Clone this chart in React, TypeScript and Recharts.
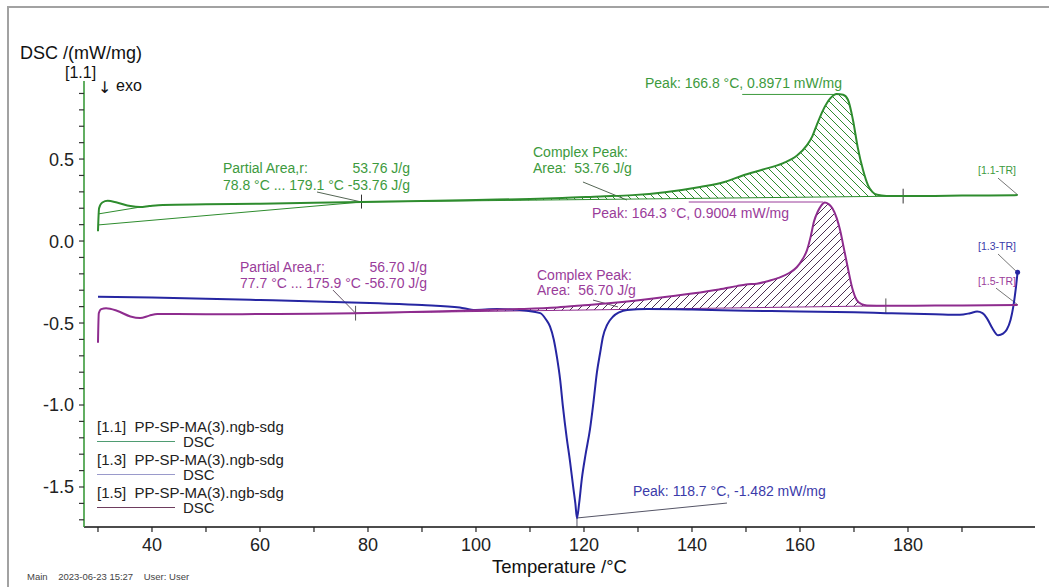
import React from 'react';
import { ComposedChart, Line, Area, XAxis, YAxis, ReferenceLine, ReferenceDot } from 'recharts';

const FONT = '"Liberation Sans", Arial, Helvetica, sans-serif';
const W = 1049;
const H = 587;
const MARGIN = { top: 81, right: 14, bottom: 0, left: 0 };
const Y_AXIS_W = 84;
const X_AXIS_H = 60;

const GREEN = '#2e8c2e';
const GREEN_T = '#3d9a3d';
const BLUE = '#2626a2';
const BLUE_T = '#3b3baa';
const PURPLE = '#8e2c8e';
const PURPLE_T = '#9a3c9a';

// ---- Curve [1.1] (green): temperature /°C and DSC /(mW/mg)
const t11 = [30.0, 30.2, 30.8, 31.8, 33.5, 36.0, 37.8, 39.5, 42, 50, 60, 70, 78.8, 90, 100, 110, 116, 123, 129, 135, 141.5, 146, 149.4, 153, 156.9, 159.4, 161.3, 162.3, 163.1, 164.3, 165.6, 166.8, 168.0, 168.9, 169.8, 170.7, 171.7, 172.6, 173.4, 174.3, 176, 179.1, 185, 190, 195, 200.3];
const dsc11 = [0.06, 0.2, 0.235, 0.245, 0.235, 0.213, 0.207, 0.213, 0.22, 0.224, 0.228, 0.233, 0.238, 0.244, 0.25, 0.257, 0.262, 0.272, 0.28, 0.298, 0.33, 0.36, 0.4, 0.435, 0.475, 0.52, 0.585, 0.64, 0.707, 0.8, 0.87, 0.897, 0.892, 0.86, 0.74, 0.57, 0.43, 0.34, 0.3, 0.282, 0.275, 0.274, 0.275, 0.277, 0.278, 0.28];

// ---- Curve [1.3] (blue)
const t13 = [30.0, 40, 50, 60, 72, 82, 90, 97, 99.5, 104, 109.4, 111.9, 113.0, 113.7, 114.4, 115.0, 115.6, 116.1, 116.8, 117.4, 118.0, 118.4, 118.7, 119.1, 119.6, 120.3, 121.1, 121.8, 122.4, 123.0, 123.5, 124.3, 125.4, 126.5, 128, 131.7, 140, 150, 160, 170, 176, 185, 189.6, 191.5, 192.8, 193.8, 194.6, 195.6, 196.7, 197.6, 198.3, 199.0, 199.5, 200.0, 200.3];
const dsc13 = [-0.34, -0.345, -0.352, -0.36, -0.37, -0.38, -0.39, -0.405, -0.42, -0.415, -0.425, -0.44, -0.48, -0.52, -0.6, -0.71, -0.85, -1.01, -1.2, -1.34, -1.5, -1.6, -1.69, -1.6, -1.45, -1.3, -1.15, -0.97, -0.8, -0.68, -0.585, -0.51, -0.46, -0.435, -0.42, -0.415, -0.418, -0.425, -0.43, -0.435, -0.44, -0.447, -0.45, -0.44, -0.43, -0.44, -0.47, -0.53, -0.575, -0.565, -0.54, -0.48, -0.4, -0.28, -0.19];

// ---- Curve [1.5] (purple)
const t15 = [30.0, 30.15, 30.6, 31.5, 33.5, 36, 37.8, 39.5, 41, 50, 60, 70, 77.7, 90, 100, 108, 115, 120, 125, 132.8, 140, 145, 148.3, 150, 152, 154, 156, 158, 159.4, 160.5, 161.3, 162.0, 162.6, 163.3, 163.9, 164.6, 165.3, 166, 166.8, 167.4, 168.1, 168.9, 169.7, 170.5, 171.4, 172.4, 175.9, 185, 195, 200.3];
const dsc15 = [-0.62, -0.44, -0.415, -0.41, -0.425, -0.46, -0.47, -0.455, -0.445, -0.447, -0.445, -0.443, -0.44, -0.432, -0.422, -0.415, -0.405, -0.392, -0.378, -0.35, -0.32, -0.295, -0.275, -0.265, -0.26, -0.245, -0.225, -0.195, -0.16, -0.11, -0.055, 0.03, 0.12, 0.18, 0.215, 0.235, 0.225, 0.2, 0.14, 0.07, -0.04, -0.17, -0.29, -0.36, -0.385, -0.393, -0.395, -0.393, -0.392, -0.39];

// ---- Integration limits (partial area baselines)
const base11 = [78.8, 0.238, 179.1, 0.274];
const base15 = [77.7, -0.44, 175.9, -0.395];

// ---- Axes
const xDomain = [27.41, 203.52];
const yDomain = [-1.744, 0.976];
const xTicks = [30, 40, 50, 60, 70, 80, 90, 100, 110, 120, 130, 140, 150, 160, 170, 180, 190];
const xLabeled = [40, 60, 80, 100, 120, 140, 160, 180];
const yTicks = [-1.7, -1.6, -1.5, -1.4, -1.3, -1.2, -1.1, -1.0, -0.9, -0.8, -0.7, -0.6, -0.5, -0.4, -0.3, -0.2, -0.1, 0.0, 0.1, 0.2, 0.3, 0.4, 0.5, 0.6, 0.7, 0.8, 0.9];
const yLabeled = [-1.5, -1.0, -0.5, 0.0, 0.5];

// ---- Legend
const legendIds = ['[1.1]', '[1.3]', '[1.5]'];
const legendFiles = ['PP-SP-MA(3).ngb-sdg', 'PP-SP-MA(3).ngb-sdg', 'PP-SP-MA(3).ngb-sdg'];
const legendSignals = ['DSC', 'DSC', 'DSC'];
const legendColors = ['#4f9c72', '#9a9acb', '#6e3d5e'];

// ---- Annotation texts (anchored in data coordinates)
type Note = { t: number; v: number; text: string; color: string; size?: number; anchor?: 'start' | 'end' | 'middle' };
const notes: Note[] = [
  { t: 131.3, v: 0.933, text: 'Peak: 166.8 °C, 0.8971 mW/mg', color: GREEN_T },
  { t: 53.15, v: 0.415, text: 'Partial Area,r:', color: GREEN_T },
  { t: 87.78, v: 0.415, text: '53.76 J/g', color: GREEN_T, anchor: 'end' },
  { t: 53.15, v: 0.311, text: '78.8 °C ... 179.1 °C', color: GREEN_T },
  { t: 87.78, v: 0.311, text: '-53.76 J/g', color: GREEN_T, anchor: 'end' },
  { t: 110.56, v: 0.512, text: 'Complex Peak:', color: GREEN_T },
  { t: 110.56, v: 0.415, text: 'Area:  53.76 J/g', color: GREEN_T },
  { t: 121.48, v: 0.14, text: 'Peak: 164.3 °C, 0.9004 mW/mg', color: PURPLE_T },
  { t: 56.3, v: -0.189, text: 'Partial Area,r:', color: PURPLE_T },
  { t: 90.93, v: -0.189, text: '56.70 J/g', color: PURPLE_T, anchor: 'end' },
  { t: 56.3, v: -0.287, text: '77.7 °C ... 175.9 °C', color: PURPLE_T },
  { t: 90.93, v: -0.287, text: '-56.70 J/g', color: PURPLE_T, anchor: 'end' },
  { t: 111.3, v: -0.238, text: 'Complex Peak:', color: PURPLE_T },
  { t: 111.3, v: -0.329, text: 'Area:  56.70 J/g', color: PURPLE_T },
  { t: 129.07, v: -1.555, text: 'Peak: 118.7 °C, -1.482 mW/mg', color: BLUE_T },
  { t: 192.96, v: 0.409, text: '[1.1-TR]', color: GREEN_T, size: 10.5 },
  { t: 192.96, v: -0.055, text: '[1.3-TR]', color: BLUE_T, size: 10.5 },
  { t: 192.96, v: -0.268, text: '[1.5-TR]', color: PURPLE_T, size: 10.5 },
];

// ---- Leader lines / markers (data coordinates)
type Seg = { a: [number, number]; b: [number, number]; color: string };
const segs: Seg[] = [
  { a: [149.3, 0.894], b: [166.9, 0.894], color: GREEN_T },
  { a: [70.56, 0.299], b: [78.8, 0.238], color: '#556655' },
  { a: [119.81, 0.36], b: [127.96, 0.25], color: '#556655' },
  { a: [30.0, 0.098], b: [78.8, 0.238], color: GREEN },
  { a: [30.0, 0.165], b: [37.8, 0.207], color: GREEN },
  { a: [78.8, 0.238], b: [179.1, 0.274], color: GREEN },
  { a: [78.8, 0.198], b: [78.8, 0.283], color: '#333' },
  { a: [179.1, 0.229], b: [179.1, 0.319], color: '#333' },
  { a: [139.4, 0.238], b: [164.3, 0.238], color: PURPLE_T },
  { a: [73.52, -0.299], b: [77.7, -0.44], color: '#665566' },
  { a: [121.67, -0.36], b: [126.3, -0.402], color: '#665566' },
  { a: [77.7, -0.44], b: [175.9, -0.395], color: PURPLE },
  { a: [77.7, -0.485], b: [77.7, -0.395], color: '#555' },
  { a: [175.9, -0.44], b: [175.9, -0.35], color: '#555' },
  { a: [146.48, -1.598], b: [118.7, -1.689], color: '#556' },
  { a: [118.7, -1.69], b: [118.7, -1.74], color: '#556' },
  { a: [196.67, 0.384], b: [200.37, 0.28], color: '#777' },
  { a: [196.67, -0.079], b: [200.37, -0.195], color: '#777' },
  { a: [196.3, -0.287], b: [200.37, -0.39], color: '#777' },
];

const zip = (ts: number[], vs: number[]) => ts.map((t, i) => ({ t, v: vs[i] }));
const hatch = (ts: number[], vs: number[], b: number[]) =>
  zip(ts, vs)
    .filter((p) => p.t >= b[0] && p.t <= b[2])
    .map((p) => ({ t: p.t, range: [b[1] + ((b[3] - b[1]) * (p.t - b[0])) / (b[2] - b[0]), p.v] }));

const green = zip(t11, dsc11);
const blue = zip(t13, dsc13);
const purple = zip(t15, dsc15);
const greenHatch = hatch(t11, dsc11, base11);
const purpleHatch = hatch(t15, dsc15, base15);

const XTick = (p: any) => {
  const { x, y, payload } = p;
  const v = payload.value;
  return (
    <g>
      <line x1={x} x2={x} y1={y} y2={y + 5} stroke="#222" strokeWidth={1.2} />
      {xLabeled.includes(v) && (
        <text x={x} y={y + 18} dy="0.36em" textAnchor="middle" fontSize={18} fontFamily={FONT} fill="#222">
          {v}
        </text>
      )}
    </g>
  );
};

const YTick = (p: any) => {
  const { x, y, payload } = p;
  const v = payload.value;
  const lab = yLabeled.some((l) => Math.abs(l - v) < 1e-6);
  return (
    <g>
      <line x1={x - 5} x2={x} y1={y} y2={y} stroke="#333" strokeWidth={1.2} />
      {lab && (
        <text x={x - 10} y={y} dy="0.36em" textAnchor="end" fontSize={18} fontFamily={FONT} fill="#222">
          {v.toFixed(1)}
        </text>
      )}
    </g>
  );
};

const yTitle = (p: any) => {
  const top = MARGIN.top;
  return (
    <g fontFamily={FONT} fill="#111">
      <text x={20} y={top - 22.5} fontSize={18}>DSC /(mW/mg)</text>
      <text x={65} y={top - 3} fontSize={16}>[1.1]</text>
      <text x={98} y={top + 12} fontSize={16} fontFamily='"DejaVu Sans", sans-serif'>↓</text>
      <text x={116} y={top + 10} fontSize={16}>exo</text>
    </g>
  );
};

const xTitle = (p: any) => {
  const vb = p.viewBox || { x: 84, y: 527, width: 951 };
  return (
    <text x={vb.x + vb.width / 2} y={vb.y + 46} textAnchor="middle" fontSize={18.5} fontFamily={FONT} fill="#111">
      Temperature /°C
    </text>
  );
};

export default function App() {
  return (
    <div style={{ position: 'absolute', left: 0, top: 0, width: W, height: H, background: '#fff', overflow: 'hidden' }}>
      <div
        style={{
          position: 'absolute', left: 7, top: 6, width: W, height: H,
          borderTop: '2px solid #a2a2a2', borderLeft: '2px solid #a2a2a2',
        }}
      />
      <div style={{ position: 'absolute', left: 0, top: 0 }}>
        <ComposedChart width={W} height={H} margin={MARGIN}>
          <defs>
            <pattern id="hatchG" patternUnits="userSpaceOnUse" width="8" height="8">
              <path d="M0,0 L8,8 M-1,7 L1,9 M7,-1 L9,1" stroke={GREEN} strokeWidth={1} />
            </pattern>
            <pattern id="hatchP" patternUnits="userSpaceOnUse" width="8" height="8">
              <path d="M0,8 L8,0 M-1,1 L1,-1 M7,9 L9,7" stroke="#4a3050" strokeWidth={1} />
            </pattern>
          </defs>
          <XAxis
            type="number" dataKey="t" domain={xDomain} allowDataOverflow ticks={xTicks} interval={0}
            tick={<XTick />} tickSize={0} tickMargin={0} tickLine={false}
            axisLine={{ stroke: '#111', strokeWidth: 1.6 }} height={X_AXIS_H}
            label={{ content: xTitle }}
          />
          <YAxis
            type="number" domain={yDomain} allowDataOverflow ticks={yTicks} interval={0}
            tick={<YTick />} tickSize={0} tickMargin={0} tickLine={false}
            axisLine={{ stroke: '#3a9a3a', strokeWidth: 1.6 }} width={Y_AXIS_W}
            label={{ content: yTitle }}
          />
          <Area data={greenHatch} dataKey="range" type="monotone" stroke="none" fill="url(#hatchG)" fillOpacity={1} isAnimationActive={false} activeDot={false} />
          <Area data={purpleHatch} dataKey="range" type="monotone" stroke="none" fill="url(#hatchP)" fillOpacity={1} isAnimationActive={false} activeDot={false} />
          {segs.map((s, i) => (
            <ReferenceLine
              key={'s' + i}
              segment={[{ x: s.a[0], y: s.a[1] }, { x: s.b[0], y: s.b[1] }]}
              stroke={s.color} strokeWidth={1} ifOverflow="visible"
            />
          ))}
          <Line data={blue} dataKey="v" type="monotone" stroke={BLUE} strokeWidth={2} dot={false} activeDot={false} isAnimationActive={false} />
          <Line data={purple} dataKey="v" type="monotone" stroke={PURPLE} strokeWidth={2} dot={false} activeDot={false} isAnimationActive={false} />
          <Line data={green} dataKey="v" type="monotone" stroke={GREEN} strokeWidth={2} dot={false} activeDot={false} isAnimationActive={false} />
          <ReferenceDot x={200.3} y={-0.19} r={2.5} fill={BLUE} stroke="none" ifOverflow="visible" />
          {notes.map((n, i) => (
            <ReferenceDot
              key={'n' + i} x={n.t} y={n.v} r={0} fill="none" stroke="none" ifOverflow="visible"
              label={{
                content: (p: any) => {
                  const vb = p.viewBox || { x: 0, y: 0, width: 0, height: 0 };
                  return (
                    <text
                      x={vb.x + (vb.width || 0) / 2} y={vb.y + (vb.height || 0) / 2}
                      textAnchor={n.anchor || 'start'} fontSize={n.size || 14} fontFamily={FONT} fill={n.color}
                      style={{ whiteSpace: 'pre' }}
                    >
                      {n.text}
                    </text>
                  );
                },
              }}
            />
          ))}
        </ComposedChart>
      </div>
      {legendIds.map((id, i) => (
        <React.Fragment key={id}>
          <div style={{ position: 'absolute', left: 97, top: 418 + 33 * i, font: `15px ${FONT}`, lineHeight: '18px', whiteSpace: 'pre', color: '#222' }}>
            {`${id}  ${legendFiles[i]}`}
          </div>
          <div style={{ position: 'absolute', left: 97, top: 441 + 33 * i, width: 78, height: 1, background: legendColors[i] }} />
          <div style={{ position: 'absolute', left: 183, top: 433 + 33 * i, font: `15px ${FONT}`, lineHeight: '18px', color: '#222' }}>
            {legendSignals[i]}
          </div>
        </React.Fragment>
      ))}
      <div style={{ position: 'absolute', left: 27, top: 571, font: `9.5px ${FONT}`, lineHeight: '12px', color: '#444', whiteSpace: 'pre' }}>
        {'Main    2023-06-23 15:27    User: User'}
      </div>
    </div>
  );
}
